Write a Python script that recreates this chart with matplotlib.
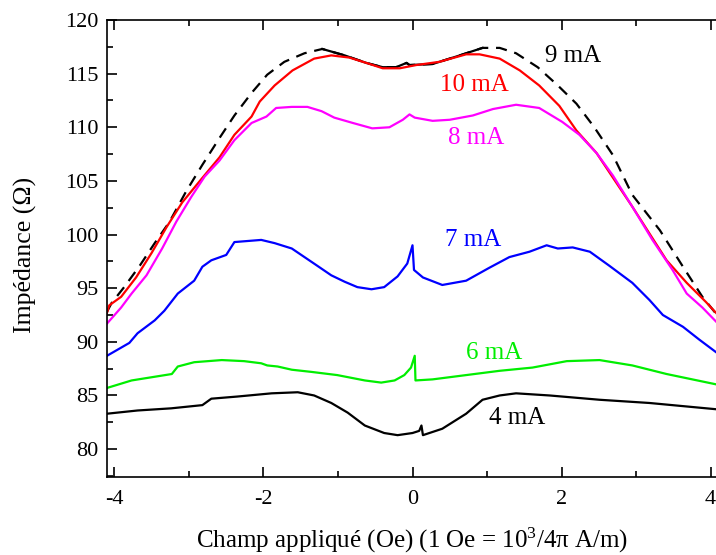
import numpy as np
import matplotlib
matplotlib.use('Agg')
import matplotlib.pyplot as plt
from matplotlib.ticker import MultipleLocator

### Polices : style Times. ###
plt.rcParams['font.family'] = ['Liberation Serif', 'DejaVu Serif']
plt.rcParams['mathtext.fontset'] = 'custom'
plt.rcParams['mathtext.rm'] = 'Liberation Serif'
plt.rcParams['mathtext.it'] = 'Liberation Serif:italic'
plt.rcParams['axes.unicode_minus'] = False

### Données (champ en Oe, impédance en Ohm). ###
x9 = [-4.1, -4.04, -3.87, -3.66, -3.46, -3.26, -3.04, -2.82, -2.59, -2.39, -2.16, -1.95,
      -1.72, -1.45, -1.21, -0.91, -0.62, -0.4, -0.22, -0.08, -0.04, 0.27, 0.59, 0.94,
      1.17, 1.39, 1.68, 1.95, 2.2, 2.44, 2.69, 2.95, 3.32, 3.63, 3.89, 4.1]
y9 = [92.8, 93.6, 95.1, 97.1, 99.2, 101.2, 104.0, 106.5, 109.0, 111.1, 113.2, 114.9,
      116.1, 116.9, 117.3, 116.7, 116.0, 115.6, 115.6, 116.0, 115.8, 115.9, 116.6, 117.4,
      117.4, 116.9, 115.6, 113.9, 112.2, 110.0, 107.4, 103.7, 100.4, 97.0, 94.2, 92.4]

x10 = [-4.1, -4.07, -3.91, -3.71, -3.5, -3.3, -3.09, -2.83, -2.59, -2.39, -2.16, -2.05,
       -1.85, -1.61, -1.32, -1.09, -0.85, -0.62, -0.4, -0.17, 0.05, 0.36, 0.72, 0.9,
       1.17, 1.44, 1.7, 1.97, 2.2, 2.47, 2.69, 2.95, 3.18, 3.41, 3.68, 3.94, 4.1]
y10 = [92.7, 93.4, 94.2, 96.0, 98.3, 100.7, 103.0, 105.2, 107.2, 109.3, 111.0, 112.4,
       113.9, 115.3, 116.4, 116.7, 116.5, 116.0, 115.5, 115.5, 115.8, 116.1, 116.8, 116.8,
       116.4, 115.3, 113.9, 112.0, 109.7, 107.6, 105.3, 102.6, 100.1, 97.6, 95.5, 93.7, 92.5]

x8 = [-4.1, -3.91, -3.77, -3.57, -3.36, -3.17, -2.97, -2.79, -2.59, -2.39, -2.16, -1.96,
      -1.83, -1.62, -1.41, -1.22, -1.05, -0.8, -0.54, -0.31, -0.13, -0.04, 0.03, 0.27,
      0.5, 0.81, 1.08, 1.39, 1.7, 2.01, 2.24, 2.47, 2.69, 2.95, 3.22, 3.49, 3.68, 3.89, 4.1]
y8 = [91.7, 93.2, 94.5, 96.2, 98.7, 101.2, 103.5, 105.4, 106.9, 108.8, 110.4, 111.0,
      111.8, 111.9, 111.9, 111.5, 110.9, 110.4, 109.9, 110.0, 110.7, 111.2, 110.9, 110.6,
      110.7, 111.1, 111.7, 112.1, 111.8, 110.5, 109.3, 107.6, 105.5, 102.6, 99.5, 96.7, 94.5, 93.2, 91.7]

x7 = [-4.1, -3.8, -3.69, -3.46, -3.33, -3.15, -2.93, -2.82, -2.7, -2.5, -2.39, -2.03,
      -1.85, -1.62, -1.45, -1.28, -1.09, -0.91, -0.74, -0.55, -0.38, -0.2, -0.07, 0.0,
      0.02, 0.14, 0.4, 0.72, 1.03, 1.3, 1.57, 1.8, 1.95, 2.15, 2.38, 2.64, 2.95, 3.18,
      3.36, 3.63, 3.85, 4.1]
y7 = [88.7, 89.9, 90.8, 92.0, 92.9, 94.5, 95.7, 97.0, 97.6, 98.1, 99.3, 99.5,
      99.2, 98.7, 97.9, 97.1, 96.2, 95.6, 95.1, 94.9, 95.1, 96.1, 97.3, 99.0,
      96.7, 96.0, 95.3, 95.7, 96.9, 97.9, 98.4, 99.0, 98.7, 98.8, 98.4, 97.1, 95.5, 93.9,
      92.5, 91.4, 90.2, 88.9]

x6 = [-4.1, -3.77, -3.23, -3.15, -2.93, -2.56, -2.26, -2.03, -1.95, -1.81, -1.62, -1.36,
      -1.01, -0.64, -0.42, -0.24, -0.11, -0.02, 0.03, 0.04, 0.27, 0.72, 1.17, 1.61,
      2.07, 2.51, 2.95, 3.41, 4.1]
y6 = [85.7, 86.4, 87.0, 87.7, 88.1, 88.3, 88.2, 88.0, 87.8, 87.7, 87.4, 87.2,
      86.9, 86.4, 86.2, 86.4, 86.9, 87.6, 88.7, 86.4, 86.5, 86.9, 87.3, 87.6,
      88.2, 88.3, 87.8, 87.0, 86.0]

x4 = [-4.1, -3.69, -3.24, -2.82, -2.7, -2.35, -1.89, -1.54, -1.32, -1.09, -0.87, -0.64,
      -0.38, -0.2, 0.0, 0.09, 0.12, 0.14, 0.4, 0.72, 0.94, 1.17, 1.39, 1.84, 2.51, 3.18, 4.1]
y4 = [83.3, 83.6, 83.8, 84.1, 84.7, 84.9, 85.2, 85.3, 85.0, 84.3, 83.4, 82.2,
      81.5, 81.3, 81.5, 81.7, 82.2, 81.3, 81.9, 83.3, 84.6, 85.0, 85.2, 85.0, 84.6, 84.3, 83.7]

### Étiquettes des courbes. ###
labels = ['9 mA', '10 mA', '8 mA', '7 mA', '6 mA', '4 mA']
label_x = [2.15, 0.83, 0.86, 0.81, 1.09, 1.41]
label_y = [116.6, 113.9, 109.0, 99.5, 89.0, 82.9]
colors = ['black', '#ff0000', '#ff00ff', '#0000ff', '#00ee00', 'black']

### Figure. ###
fig = plt.figure(figsize=(7.16, 5.55), dpi=100)
ax = fig.add_axes([107 / 716, 78 / 555, 611 / 716, 457 / 555])

lw = 1.6
# 9 mA : tireté, partie centrale en trait plein
x9a = np.array(x9)
y9a = np.array(y9)
ax.plot(x9a, y9a, color='black', lw=lw, dashes=(5, 3.5))
mid = (x9a >= -1.21) & (x9a <= 1.0)
ax.plot(x9a[mid], y9a[mid], color='black', lw=lw)
ax.plot(x10, y10, color=colors[1], lw=lw)
ax.plot(x8, y8, color=colors[2], lw=lw)
ax.plot(x7, y7, color=colors[3], lw=lw)
ax.plot(x6, y6, color=colors[4], lw=lw)
ax.plot(x4, y4, color=colors[5], lw=lw)

for t, xx, yy, c in zip(labels, label_x, label_y, colors):
    ax.text(xx, yy, t, color=c, fontsize=18, ha='center', va='center')

ax.set_xlim(-4.1, 4.1)
ax.set_ylim(77.4, 120)
ax.xaxis.set_major_locator(MultipleLocator(2))
ax.xaxis.set_minor_locator(MultipleLocator(1))
ax.yaxis.set_major_locator(MultipleLocator(5))
ax.yaxis.set_minor_locator(MultipleLocator(2.5))
ax.tick_params(which='both', direction='in', top=True, right=False, width=1.2,
               labelsize=16)
ax.tick_params(which='major', length=7)
ax.tick_params(which='minor', length=4)
ax.tick_params(axis='x', pad=9)
ax.tick_params(axis='y', pad=6)
for s in ax.spines.values():
    s.set_linewidth(1.2)

fig.text(412 / 716, 1 - 540 / 555, r'Champ appliqué (Oe) (1 Oe = 10$^3$/4π A/m)',
         fontsize=18, ha='center', va='center')
fig.text(25 / 716, 1 - 255 / 555, 'Impédance (Ω)', fontsize=18.5, rotation=90,
         ha='center', va='center')

fig.savefig('out.png', dpi=100)
